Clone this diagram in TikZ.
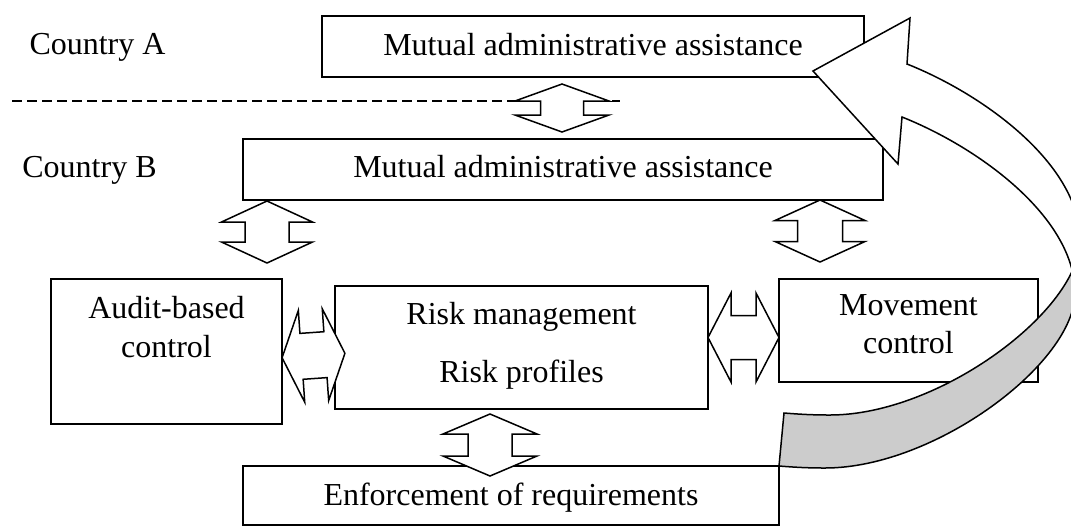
\documentclass[tikz,border=0pt]{standalone}
\usepackage{fontspec}
\setmainfont{Liberation Serif}
\usetikzlibrary{fit}
\newcommand{\dblblock}[6]{%
  \draw[blockarrow, shift={#1}, rotate=#2]
    (-#3,0) -- (-#4,-#5) -- (-#4,-#6) -- (#4,-#6) -- (#4,-#5) -- (#3,0)
    -- (#4,#5) -- (#4,#6) -- (-#4,#6) -- (-#4,#5) -- cycle;}
\begin{document}
\begin{tikzpicture}[x=0.5pt,y=-0.5pt,
  box/.style={draw, line width=0.75pt, inner sep=0pt},
  lbl/.style={font=\fontsize{16}{19}\selectfont, anchor=base, inner sep=0pt},
  blockarrow/.style={draw, fill=white, line width=0.75pt, line join=miter},
  divider/.style={line width=0.75pt, dash pattern=on 5pt off 2.5pt},
  ribbon/.style={line width=0.75pt, line join=miter}]
\useasboundingbox (0,0) rectangle (1071,527);

% boxes
\node[box, fit={(322,16) (864,77)}] (boxA) {};
\node[box, fit={(243,139) (883,200)}] (boxB) {};
\node[box, fit={(51,279) (282,424)}] (audit) {};
\node[box, fit={(335,286) (708,409)}] (risk) {};
\node[box, fit={(779,279) (1038,382)}] (move) {};
\node[box, fit={(243,466) (779,525)}] (enf) {};

% texts
\node[lbl] (cA) at (97.5,54) {Country A};
\node[lbl] (cB) at (89.5,177) {Country B};
\node[lbl] (tA) at (593,55) {Mutual administrative assistance};
\node[lbl] (tB) at (563,177) {Mutual administrative assistance};
\node[lbl] (tAud1) at (166.5,318) {Audit-based};
\node[lbl] (tAud2) at (166.5,357) {control};
\node[lbl] (tRisk1) at (521.5,324) {Risk management};
\node[lbl] (tRisk2) at (521.5,382) {Risk profiles};
\node[lbl] (tMov1) at (908.5,315) {Movement};
\node[lbl] (tMov2) at (908.5,353) {control};
\node[lbl] (tEnf) at (511,505) {Enforcement of requirements};

% dashed border line
\coordinate (dl) at (12,101);
\coordinate (dr) at (620,101);
\draw[divider] (dl) -- (dr);

% double block arrows
\coordinate (aAB) at (562,108);
\coordinate (aBaud) at (267,232);
\coordinate (aBmov) at (820,231);
\coordinate (aRE) at (490,445);
\coordinate (aAR) at (313.5,355.5);
\coordinate (aRM) at (743.5,337.5);
\dblblock{(aAB)}{90}{24}{7}{47}{21.5}
\dblblock{(aBaud)}{90}{31}{10}{45.5}{22}
\dblblock{(aBmov)}{90}{31}{10.5}{45}{22.5}
\dblblock{(aRE)}{90}{31}{11}{47}{22}
\dblblock{(aAR)}{4}{31.5}{12}{46}{23}
\dblblock{(aRM)}{0}{35.5}{12.5}{44.5}{22}

% big curved ribbon arrow
\def\bigarrow{(813,71) -- (910,18) -- (907,64)
  .. controls (985,95) and (1080,165) .. (1080,240)
  .. controls (1080,310) and (940,415) .. (830,415)
  .. controls (810,415) and (797,414) .. (784,413)
  -- (779,466)
  .. controls (792,467) and (805,468) .. (825,468)
  .. controls (935,468) and (1075,363) .. (1075,293)
  .. controls (1075,218) and (980,148) .. (902,117)
  -- (898,164) -- cycle}
\fill[gray!40] \bigarrow;
\begin{scope}
  \clip (0,0) rectangle (1100,271.5);
  \fill[white] \bigarrow;
\end{scope}
\draw[ribbon] \bigarrow;
\end{tikzpicture}
\end{document}
